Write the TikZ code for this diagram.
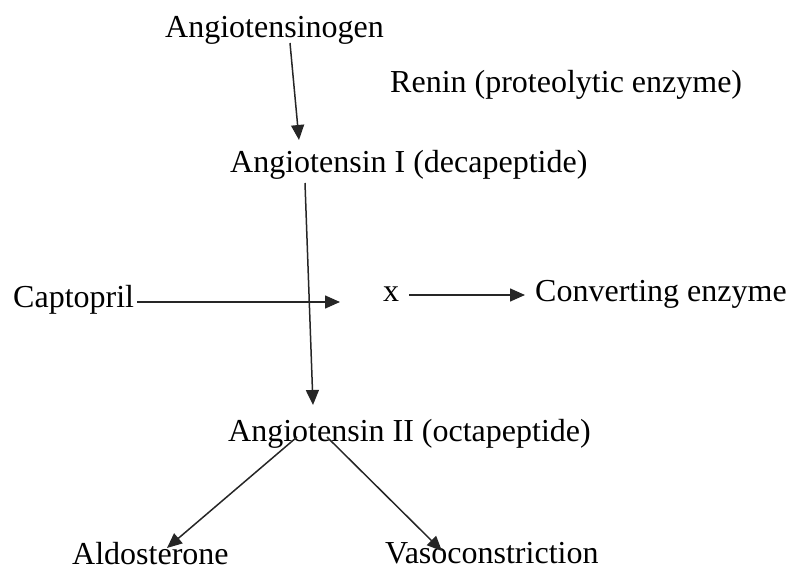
\documentclass[tikz,border=0pt]{standalone}
\usepackage{fontspec}
\setmainfont{Liberation Serif}
\usetikzlibrary{arrows.meta}
\tikzset{
  label/.style={anchor=base west,inner sep=0pt,font=\fontsize{32}{38}\selectfont},
  flow/.style={->,line width=1.5pt,black!85}
}
\begin{document}
\begin{tikzpicture}[x=1pt,y=1pt,>={Triangle[length=15pt,width=13pt]}]
        \useasboundingbox (0,0) rectangle (788,571);
        % draw the labels
        \node[label] (gen)   at (165,533) {Angiotensinogen};
        \node[label] (renin) at (390,478) {Renin (proteolytic enzyme)};
        \node[label] (ang1)  at (230,398) {Angiotensin I (decapeptide)};
        \node[label] (capto) at (13,263)  {Captopril};
        \node[label] (xmark) at (383,269) {x};
        \node[label] (conv)  at (535,269) {Converting enzyme};
        \node[label] (ang2)  at (228,129) {Angiotensin II (octapeptide)};
        \node[label] (aldo)  at (72,7)    {Aldosterone};
        \node[label] (vaso)  at (385,8)   {Vasoconstriction};

        % draw the arrows
        \draw[flow] ([shift={(125,-5)}]gen.base west) -- ([shift={(69,33)}]ang1.base west);
        \draw[flow] ([shift={(75,-10)}]ang1.base west) -- ([shift={(85,37)}]ang2.base west);
        \draw[flow] ([shift={(124,6)}]capto.base west) -- ([shift={(-43,0)}]xmark.base west);
        \draw[flow] ([shift={(26,7)}]xmark.base west) -- ([shift={(-10,7)}]conv.base west);
        \draw[flow] ([shift={(69,5)}]ang2.base west) -- ([shift={(95,16)}]aldo.base west);
        \draw[flow] ([shift={(99,5)}]ang2.base west) -- ([shift={(57,12)}]vaso.base west);
\end{tikzpicture}
\end{document}
